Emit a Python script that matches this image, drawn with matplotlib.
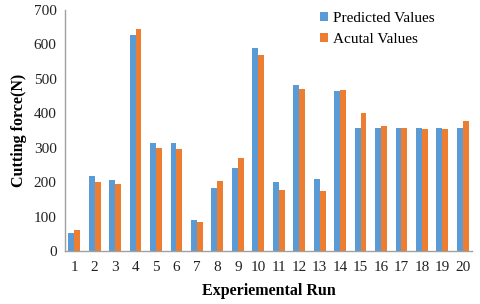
import matplotlib
matplotlib.use("Agg")
import matplotlib.pyplot as plt
import numpy as np

runs = list(range(1, 21))
predicted = [52, 217, 205, 628, 313, 313, 90, 182, 242, 590, 200, 482, 210, 465, 357, 357, 357, 357, 357, 357]
actual = [60, 200, 195, 645, 298, 295, 83, 202, 270, 570, 178, 470, 175, 468, 402, 362, 357, 355, 355, 377]
yticks = [0, 100, 200, 300, 400, 500, 600, 700]

plt.rcParams['font.family'] = ['Liberation Serif']

fig = plt.figure(figsize=(4.8, 3.04), dpi=100)
ax = fig.add_axes([65/480, 1-251/304, 407/480, 241/304])

x = np.array(runs)
w = 0.29
ax.bar(x - w/2, predicted, width=w, color='#5B9BD5', label='Predicted Values')
ax.bar(x + w/2, actual, width=w, color='#ED7D31', label='Acutal Values')

ax.set_xlim(0.55, 20.45)
ax.set_ylim(0, 700)
ax.set_yticks(yticks)
ax.set_xticks(runs)
ax.tick_params(axis='both', length=0, labelsize=11, colors='#222222')
ax.tick_params(axis='x', pad=7)
ax.tick_params(axis='y', pad=6)
for s in ['top', 'right']:
    ax.spines[s].set_visible(False)
for s in ['left', 'bottom']:
    ax.spines[s].set_color('#a0a0a0')
    ax.spines[s].set_linewidth(1.0)

ax.set_ylabel('Cutting force(N)', fontsize=11.5, fontweight='bold', labelpad=5)
ax.set_xlabel('Experiemental Run', fontsize=11.5, fontweight='bold', labelpad=7)

ax.legend(loc='upper left', bbox_to_anchor=(0.605, 1.03), frameon=False, fontsize=11,
          handlelength=0.5, handleheight=0.5, handletextpad=0.35, labelspacing=0.5,
          borderaxespad=0.2)

fig.savefig('out.png', dpi=100)
